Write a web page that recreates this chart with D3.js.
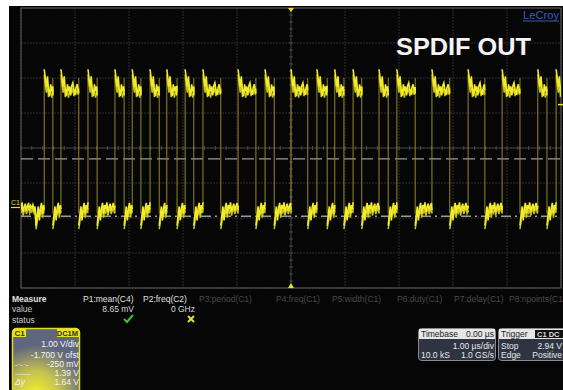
<!DOCTYPE html>
<html><head><meta charset="utf-8">
<script src="https://cdn.jsdelivr.net/npm/d3@7/dist/d3.min.js"></script>
<style>html,body{margin:0;padding:0;background:#fff;}svg{display:block;font-family:"Liberation Sans",Arial,sans-serif;}</style>
</head><body><svg id="c" width="563" height="390"></svg>
<script>
// ---------- data ----------
const timeDomain = [-5, 5];            // µs, 1.00 µs/div, 10 divisions
const voltDomain = [-2.3, 5.7];        // V, 1.00 V/div, -1.700 V offset, 8 divisions
const startLevel = 0;                  // trace starts low at left edge
// transition times in µs (alternating rise / fall, starting with a rise)
const edgeTimes = [-4.57,-4.41,-4.26,-3.93,-3.76,-3.59,-3.26,-3.09,-2.94,-2.78,-2.61,-2.44,-2.30,-2.11,
  -1.96,-1.80,-1.63,-1.30,-0.98,-0.65,-0.48,-0.31,0.00,0.31,0.48,0.67,0.81,0.98,1.15,1.31,1.63,1.80,
  1.96,2.30,2.61,2.94,3.28,3.59,3.91,4.24,4.57,4.74,4.91];
const highLevel = 3.40, lowLevel = -0.07; // V
// ringing after an edge, sampled every 0.02 µs (V relative to level)
const highRing = [0.55,0.30,0.05,0.35,-0.05,-0.22,0.12,-0.08,0.06,-0.20,0.08,0.16,-0.04,-0.18,0.02,0.12,-0.06,-0.14,0.04,0.08,-0.05,0.02];
const highRing2 = [0.40,0.10,-0.12,0.15,-0.25,-0.05,-0.08,-0.26,-0.10,-0.02,-0.10,0.00,-0.22,-0.02,-0.14,-0.05,-0.18,0.00,-0.12,-0.04,-0.12,-0.02];
const lowRing = [-0.45,-0.15,0.10,-0.30,0.05,0.20,-0.10,0.14,0.02,0.22,-0.05,0.08,0.18,-0.02,0.10,0.20,0.00,0.12,0.05,0.15,0.02,0.10];
const lowRing2 = [-0.55,-0.35,-0.05,-0.20,-0.10,0.02,-0.22,0.00,-0.08,0.06,-0.16,-0.02,0.04,-0.12,-0.02,0.06,-0.10,-0.01,-0.06,0.04,-0.08,0.00];
const cursorLevels = [1.39, -0.25];    // V (dashed, dash-dot)
const triggerLevel = 2.94;             // V
const measureHeads = ["P1:mean(C4)","P2:freq(C2)","P3:period(C1)","P4:freq(C1)","P5:width(C1)","P6:duty(C1)","P7:delay(C1)","P8:npoints(C1"];
const measureValues = ["8.65 mV","0 GHz"];
const chanLines = ["1.00 V/div","-1.700 V ofst","-250 mV","1.39 V","1.64 V"];

// ---------- setup ----------
const svg = d3.select("#c");
const W = 563, H = 390;
const gx0 = 21, gx1 = 561, gy0 = 8, gy1 = 288;
const x = d3.scaleLinear().domain(timeDomain).range([gx0, gx1]);
const y = d3.scaleLinear().domain(voltDomain).range([gy1, gy0]);

svg.append("rect").attr("x",9).attr("y",6).attr("width",W-9).attr("height",H-6).attr("fill","#060606");

const defs = svg.append("defs");
const glow = defs.append("filter").attr("id","glow").attr("x","-5%").attr("y","-5%").attr("width","110%").attr("height","110%");
glow.append("feGaussianBlur").attr("stdDeviation",0.6);

// grid
const grid = svg.append("g");
const xt = d3.range(timeDomain[0], timeDomain[1]+0.001, 1);
const yt = d3.range(voltDomain[0], voltDomain[1]+0.001, 1);
grid.selectAll("line.v").data(xt).join("line").attr("x1",d=>x(d)).attr("x2",d=>x(d)).attr("y1",gy0).attr("y2",gy1)
  .attr("stroke","#2c2c2c").attr("stroke-width",1).attr("stroke-dasharray","2,1");
grid.selectAll("line.h").data(yt).join("line").attr("y1",d=>y(d)).attr("y2",d=>y(d)).attr("x1",gx0).attr("x2",gx1)
  .attr("stroke","#2c2c2c").attr("stroke-width",1).attr("stroke-dasharray","2,1");
// center ticks
const cx = x(0), cy = y((voltDomain[0]+voltDomain[1])/2);
grid.append("line").attr("x1",cx).attr("x2",cx).attr("y1",gy0).attr("y2",gy1).attr("stroke","#3a3a3a");
grid.append("line").attr("x1",gx0).attr("x2",gx1).attr("y1",cy).attr("y2",cy).attr("stroke","#3a3a3a");
grid.selectAll("line.tx").data(d3.range(timeDomain[0], timeDomain[1]+0.001, 0.2)).join("line")
  .attr("x1",d=>x(d)).attr("x2",d=>x(d)).attr("y1",cy-2).attr("y2",cy+2).attr("stroke","#4a4a4a");
grid.selectAll("line.ty").data(d3.range(voltDomain[0], voltDomain[1]+0.001, 0.2)).join("line")
  .attr("y1",d=>y(d)).attr("y2",d=>y(d)).attr("x1",cx-2).attr("x2",cx+2).attr("stroke","#4a4a4a");
grid.append("rect").attr("x",gx0).attr("y",gy0).attr("width",gx1-gx0).attr("height",gy1-gy0)
  .attr("fill","none").attr("stroke","#5e5e5e").attr("stroke-width",1);

// cursors
svg.append("line").attr("x1",gx0).attr("x2",gx1).attr("y1",y(cursorLevels[0])).attr("y2",y(cursorLevels[0]))
  .attr("stroke","#9a9a9a").attr("stroke-width",1.4).attr("stroke-dasharray","12,5");
svg.append("line").attr("x1",gx0).attr("x2",gx1).attr("y1",y(cursorLevels[1])).attr("y2",y(cursorLevels[1]))
  .attr("stroke","#9a9a9a").attr("stroke-width",1.4).attr("stroke-dasharray","10,4,2,4");

// ---------- waveform ----------
const bounds = [timeDomain[0], ...edgeTimes, timeDomain[1]];
const segs = [];
for (let i=0;i<bounds.length-1;i++){
  const lvlHigh = (i % 2 === 1) !== (startLevel === 1);
  segs.push({t0:bounds[i], t1:bounds[i+1], high:lvlHigh, first:i>0});
}
const dt = 0.02;
function segPoints(s, ringA){
  const base = s.high ? highLevel : lowLevel;
  const pts = [];
  let k = 0;
  for (let t=s.t0; t<=s.t1+1e-9; t+=dt, k++){
    const r = s.first ? ringA[Math.min(k, ringA.length-1)] : ringA[(k+8) % ringA.length];
    pts.push([t, base + r]);
  }
  pts.push([s.t1, base + (s.first ? ringA[Math.min(k, ringA.length-1)] : 0)]);
  return pts;
}
const line = d3.line().x(d=>x(d[0])).y(d=>y(d[1]));
const wave = svg.append("g").attr("clip-path","url(#gclip)");
defs.append("clipPath").attr("id","gclip").append("rect").attr("x",gx0).attr("y",gy0).attr("width",gx1-gx0).attr("height",gy1-gy0);

// edges (dim, thin)
wave.selectAll("line.edge").data(edgeTimes).join("line")
  .attr("x1",d=>x(d)).attr("x2",d=>x(d)).attr("y1",y(lowLevel-0.1)).attr("y2",y(highLevel+0.3))
  .attr("stroke","#8f8828").attr("stroke-width",1);
// levels (bright, fuzzy)
segs.forEach(s=>{
  wave.append("path").attr("d",line(segPoints(s, s.high?highRing2:lowRing2))).attr("fill","none")
    .attr("stroke","#c9c21e").attr("stroke-width",1.5).attr("filter","url(#glow)");
  wave.append("path").attr("d",line(segPoints(s, s.high?highRing:lowRing))).attr("fill","none")
    .attr("stroke","#f2ec2a").attr("stroke-width",1.6).attr("filter","url(#glow)");
});

// markers
svg.append("path").attr("d",`M${cx-3},${gy1} L${cx+3},${gy1} L${cx},${gy1-5} Z`).attr("fill","#e8e020");
svg.append("path").attr("d",`M${cx-3},${gy0} L${cx+3},${gy0} L${cx},${gy0+4} Z`).attr("fill","#e8e020");
svg.append("line").attr("x1",gx1-3).attr("x2",gx1+2).attr("y1",y(triggerLevel)).attr("y2",y(triggerLevel)).attr("stroke","#e8e020").attr("stroke-width",1.5);
svg.append("text").attr("x",11).attr("y",y(0)-3).attr("fill","#e8e020").attr("font-size",7).text("C1");
svg.append("line").attr("x1",11).attr("x2",20).attr("y1",y(0)).attr("y2",y(0)).attr("stroke","#e8e020").attr("stroke-width",1.2);

// titles
svg.append("text").attr("x",396).attr("y",55).attr("fill","#f4f4f4").attr("font-size",24).attr("font-weight","bold")
  .attr("textLength",135).attr("lengthAdjust","spacingAndGlyphs").text("SPDIF OUT");
svg.append("text").attr("x",523).attr("y",19).attr("fill","#3b5bb5").attr("font-size",10.5)
  .attr("textLength",36).attr("lengthAdjust","spacingAndGlyphs").text("LeCroy");
svg.append("line").attr("x1",523).attr("x2",559).attr("y1",21).attr("y2",21).attr("stroke","#3b5bb5").attr("stroke-width",1);

// ---------- measure table ----------
const mt = svg.append("g").attr("font-size",8.5);
mt.append("text").attr("x",12).attr("y",302).attr("fill","#e0e0e0").attr("font-weight","bold").text("Measure");
mt.append("text").attr("x",12).attr("y",312).attr("fill","#c8c8c8").text("value");
mt.append("text").attr("x",12).attr("y",323).attr("fill","#c8c8c8").text("status");
const headX = [83,143,199,276,332,397,454,509];
mt.selectAll("text.h").data(measureHeads).join("text").attr("x",(d,i)=>headX[i]).attr("y",302)
  .attr("fill",(d,i)=>i<2?"#e0e0e0":"#4a4a4a").text(d=>d);
const valX = [134,195];
mt.selectAll("text.v").data(measureValues).join("text").attr("x",(d,i)=>valX[i]).attr("y",312)
  .attr("text-anchor","end").attr("fill","#d8d8d8").text(d=>d);
mt.append("path").attr("d","M124,319 L127,322 L133,315").attr("fill","none").attr("stroke","#3fbf3f").attr("stroke-width",2);
mt.append("path").attr("d","M188,316 L194,322 M194,316 L188,322").attr("fill","none").attr("stroke","#e8e020").attr("stroke-width",2);

// ---------- channel descriptor ----------
const gg = defs.append("radialGradient").attr("id","cg").attr("cx","35%").attr("cy","100%").attr("r","75%");
gg.append("stop").attr("offset","0%").attr("stop-color","#f4f02a");
gg.append("stop").attr("offset","45%").attr("stop-color","#c8c450");
gg.append("stop").attr("offset","100%").attr("stop-color","#5f6680");
svg.append("rect").attr("x",12.5).attr("y",328.5).attr("width",67).attr("height",66).attr("rx",4)
  .attr("fill","url(#cg)").attr("stroke","#e2da24").attr("stroke-width",1.5);
svg.append("rect").attr("x",13).attr("y",329).attr("width",13).attr("height",8).attr("fill","#e8e020");
svg.append("text").attr("x",14.5).attr("y",336).attr("font-size",8).attr("font-weight","bold").attr("fill","#333").text("C1");
svg.append("rect").attr("x",57).attr("y",329).attr("width",22).attr("height",8).attr("fill","#e8e020");
svg.append("text").attr("x",78).attr("y",336).attr("text-anchor","end").attr("font-size",7.5).attr("font-weight","bold").attr("fill","#333").text("DC1M");
const chY = [347,358,367,376,385];
svg.selectAll("text.ch").data(chanLines).join("text").attr("x",79).attr("y",(d,i)=>chY[i])
  .attr("text-anchor","end").attr("font-size",8.5).attr("fill","#f4f4f4").text(d=>d);
svg.append("text").attr("x",15).attr("y",367).attr("font-size",8).attr("fill","#eee").text("-·-·-");
svg.append("text").attr("x",15).attr("y",376).attr("font-size",8).attr("fill","#eee").text("------");
svg.append("text").attr("x",15).attr("y",385).attr("font-size",8.5).attr("font-style","italic").attr("fill","#eee").text("Δy");

// ---------- timebase / trigger ----------
function infoBox(x0, w, head, headR, rows){
  const g = svg.append("g").attr("font-size",8.5);
  g.append("rect").attr("x",x0+0.5).attr("y",328.5).attr("width",w).attr("height",32).attr("rx",3)
    .attr("fill","#2e3442").attr("stroke","#8a8a8a");
  g.append("rect").attr("x",x0+1).attr("y",329).attr("width",w-1).attr("height",10).attr("fill","#e6e6e6");
  g.append("text").attr("x",x0+3).attr("y",337).attr("fill","#222").text(head);
  if (headR) g.append("text").attr("x",x0+w-1).attr("y",337).attr("text-anchor","end").attr("fill","#222").text(headR);
  rows.forEach((r,i)=>{
    if (r[0]) g.append("text").attr("x",x0+3).attr("y",349+i*9).attr("fill","#e8e8e8").text(r[0]);
    if (r[1]) g.append("text").attr("x",Math.min(x0+w-1, 562)).attr("y",349+i*9).attr("text-anchor","end").attr("fill","#e8e8e8").text(r[1]);
  });
  return g;
}
infoBox(418, 77, "Timebase", "0.00 µs", [["","1.00 µs/div"],["10.0 kS","1.0 GS/s"]]);
const tg = infoBox(498, 70, "Trigger", "", [["Stop","2.94 V"],["Edge","Positive"]]);
tg.append("rect").attr("x",535).attr("y",330).attr("width",28).attr("height",8).attr("fill","#111");
tg.append("text").attr("x",537).attr("y",337).attr("font-size",7.5).attr("font-weight","bold").attr("fill","#ddd").text("C1 DC");
</script></body></html>
